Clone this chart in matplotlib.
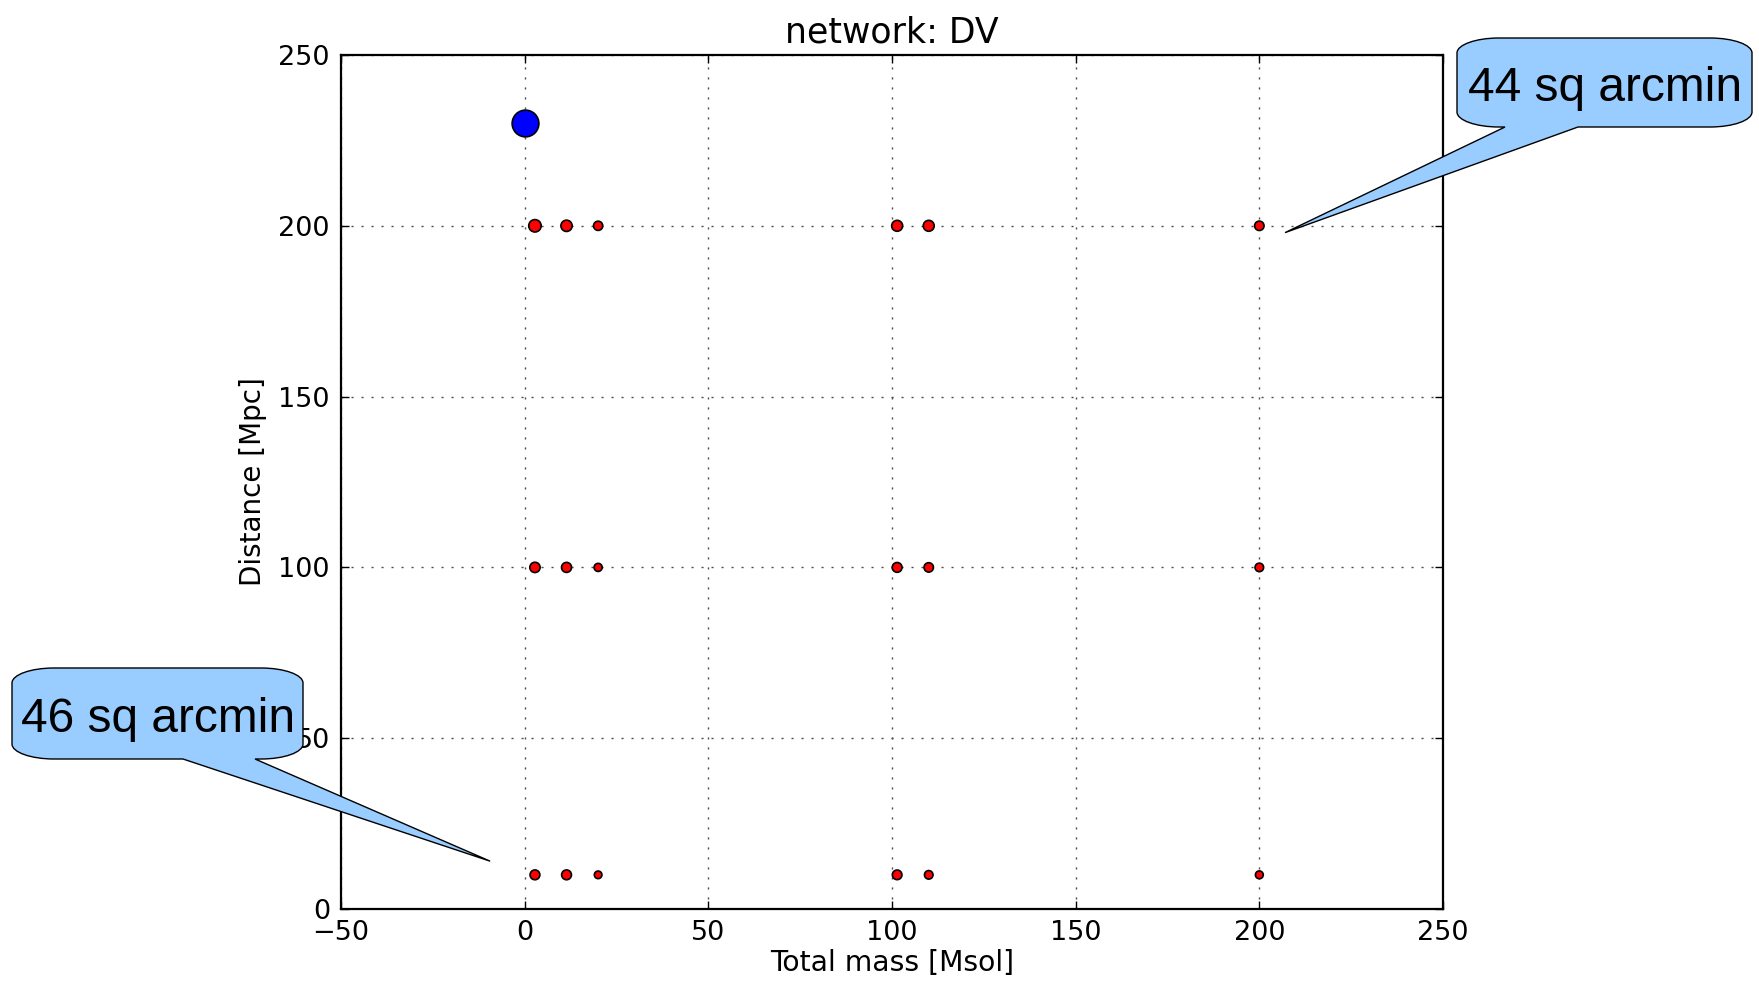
import matplotlib
matplotlib.use("Agg")
import matplotlib.pyplot as plt
from matplotlib.path import Path
from matplotlib.patches import PathPatch

# total mass of each binary and the injected distances
mass = [2.8, 11.4, 20, 101.4, 110, 200]
dist = [10, 100, 200]
# marker areas for each distance row
sizes = {
    200: [80, 66, 44, 62, 62, 46],
    100: [55, 52, 34, 50, 46, 38],
    10: [50, 50, 30, 48, 38, 32],
}
# reference source
ref_mass = [0]
ref_dist = [230]
ref_size = [370]

labels = ["44 sq arcmin", "46 sq arcmin"]
label_targets = [(207, 198), (-9.4, 14)]

W, H = 1759, 985
fig = plt.figure(figsize=(W / 100, H / 100), dpi=100)
ax = fig.add_axes([341 / W, 1 - 909 / H, (1443 - 341) / W, (909 - 55) / H])

for d in dist:
    ax.scatter(mass, [d] * len(mass), s=sizes[d], c="r", edgecolors="k",
               linewidths=1.2, zorder=3)
ax.scatter(ref_mass, ref_dist, s=ref_size, c="b", edgecolors="k",
           linewidths=1.2, zorder=3)

ax.set_xlim(-50, 250)
ax.set_ylim(0, 250)
ax.set_xticks(range(-50, 251, 50))
ax.set_yticks(range(0, 251, 50))
ax.grid(True, color="0.3", linestyle=(0, (1.5, 5.7)), linewidth=1)
ax.tick_params(direction="in", top=True, right=True, length=6, width=1,
               labelsize=19.5, pad=8)
for sp in ax.spines.values():
    sp.set_linewidth(1.6)
ax.set_title("network: DV", fontsize=25, pad=9)
ax.set_xlabel("Total mass [Msol]", fontsize=20.3, labelpad=2)
ax.set_ylabel("Distance [Mpc]", fontsize=20, labelpad=8)


def callout(box, base, tip, text, text_x):
    # box = (left, top, right, bottom) in image pixels, base = pointer foot x
    L, T, R, B = box
    rx, ry, k = 42, 15, 0.5523
    pts = [
        ((L + rx, T), Path.MOVETO),
        ((R - rx, T), Path.LINETO),
        ((R - rx + k * rx, T), Path.CURVE4),
        ((R, T + ry - k * ry), Path.CURVE4),
        ((R, T + ry), Path.CURVE4),
        ((R, B - ry), Path.LINETO),
        ((R, B - ry + k * ry), Path.CURVE4),
        ((R - rx + k * rx, B), Path.CURVE4),
        ((R - rx, B), Path.CURVE4),
        ((base[1], B), Path.LINETO),
        (tip, Path.LINETO),
        ((base[0], B), Path.LINETO),
        ((L + rx, B), Path.LINETO),
        ((L + rx - k * rx, B), Path.CURVE4),
        ((L, B - ry + k * ry), Path.CURVE4),
        ((L, B - ry), Path.CURVE4),
        ((L, T + ry), Path.LINETO),
        ((L, T + ry - k * ry), Path.CURVE4),
        ((L + rx - k * rx, T), Path.CURVE4),
        ((L + rx, T), Path.CURVE4),
        ((L + rx, T), Path.CLOSEPOLY),
    ]
    verts = [(x / W, 1 - y / H) for (x, y), _ in pts]
    codes = [c for _, c in pts]
    patch = PathPatch(Path(verts, codes), facecolor="#99ccff",
                      edgecolor="k", linewidth=1, transform=fig.transFigure,
                      zorder=10)
    fig.add_artist(patch)
    fig.text(text_x / W, 1 - ((T + B) / 2 + 6) / H, text, fontsize=34.5,
             family="Liberation Sans", va="center", ha="left", zorder=11)


def tip_px(xy):
    fx, fy = fig.transFigure.inverted().transform(ax.transData.transform(xy))
    return (fx * W, (1 - fy) * H)


callout((1457, 38, 1752, 127), (1505, 1578), tip_px(label_targets[0]),
        labels[0], 1468)
callout((12, 668, 303, 759), (183, 255), tip_px(label_targets[1]),
        labels[1], 21)

fig.savefig("out.png", dpi=100)
